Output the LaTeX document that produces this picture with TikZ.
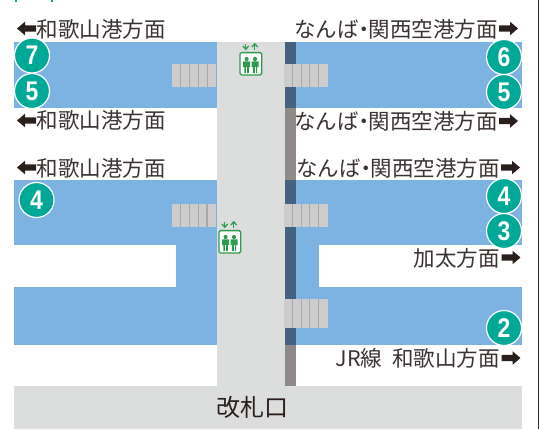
\documentclass[tikz,border=0pt]{standalone}
\usepackage{fontspec}
\setmainfont{Noto Sans CJK JP}
\newfontfamily\digitfont[BoldFeatures={FakeStretch=0.85}]{Liberation Sans}
\definecolor{platblue}{HTML}{7DB3E3}
\definecolor{edgeblue}{HTML}{456380}
\definecolor{edgegray}{HTML}{8F8A8A}
\definecolor{floorgray}{HTML}{DCDDDD}
\definecolor{stairfill}{HTML}{CBCCCB}
\definecolor{stairline}{HTML}{A8A8A8}
\definecolor{liftgreen}{HTML}{2E9C4F}
\definecolor{badge}{HTML}{00A997}
\definecolor{ink}{HTML}{3A3332}
\definecolor{arrowink}{HTML}{2A1F1C}
\newcommand{\narrowdot}{\makebox[10pt][c]{・}}
\tikzset{
  x=1pt,y=-1pt,
  dirtext/.style={font=\fontsize{21.5}{21.5}\selectfont,text=ink,inner sep=0pt},
  badgeno/.style={circle,fill=badge,draw=white,line width=1.2pt,minimum size=35pt,inner sep=0pt,text=white,
    font=\digitfont\bfseries\fontsize{27}{27}\selectfont},
  pics/stairs/.style args={#1/#2}{code={
    \fill[stairfill] (0,0) rectangle (44.3,#2);
    \foreach \k in {1,2,3,4}{\fill[stairline] (#1*\k-0.6,0) rectangle (#1*\k+0.6,#2);}
  }},
  pics/goleft/.style={code={
    \fill[arrowink] (0,0) -- (8,-6.8) -- (8,-3.2) -- (19,-3.2) -- (19,3.2) -- (8,3.2) -- (8,6.8) -- cycle;
  }},
  pics/goright/.style={code={
    \fill[arrowink] (19,0) -- (11,-6.8) -- (11,-3.2) -- (0,-3.2) -- (0,3.2) -- (11,3.2) -- (11,6.8) -- cycle;
  }},
  pics/lift/.style={code={
    \draw[liftgreen,line width=1.3pt,rounded corners=1.5pt,fill=white] (0.6,0.6) rectangle (22.4,22.9);
    \foreach \c in {7.3,15.7}{
      \fill[liftgreen] (\c,7) circle (2.1);
      \fill[liftgreen] (\c-3.5,9.3) -- (\c+3.5,9.3) -- (\c+3.5,15) -- (\c+2.2,15) -- (\c+2.2,21) -- (\c-2.2,21) -- (\c-2.2,15) -- (\c-3.5,15) -- cycle;
      \draw[white,line width=0.4pt] (\c,15) -- (\c,21);
    }
    \draw[liftgreen,line width=1.3pt] (6.5,-8.5) -- (6.5,-3.5);
    \draw[liftgreen,line width=1.3pt] (3.6,-6) -- (6.5,-2.8) -- (9.4,-6);
    \draw[liftgreen,line width=1.3pt] (15.5,-2.5) -- (15.5,-7.5);
    \draw[liftgreen,line width=1.3pt] (12.6,-5) -- (15.5,-8.2) -- (18.4,-5);
  }}
}
\begin{document}
\begin{tikzpicture}
\useasboundingbox (0,0) rectangle (541,429);
\fill[white] (0,0) rectangle (541,429);
% cropped frame marks at the top and the right edge
\fill[badge] (15,0) rectangle (17,2);
\fill[badge] (50.5,0) rectangle (53,2);
\fill[black!85] (537.6,0) rectangle (539,429);
% platforms
\fill[platblue] (14.3,41.7) rectangle (216.7,108.3);
\fill[platblue] (295.7,41.7) rectangle (521.7,108.3);
\fill[platblue] (14.3,179.7) rectangle (216.7,244.7);
\fill[platblue] (14.3,286.7) rectangle (216.7,344.7);
\fill[platblue] (175.7,244.7) rectangle (216.7,286.7);
\fill[platblue] (295.7,179.7) rectangle (521.7,244.7);
\fill[platblue] (295.7,286.7) rectangle (521.7,344.7);
\fill[platblue] (295.7,244.7) rectangle (319.3,286.7);
% concourse and ticket gate band
\fill[floorgray] (216.7,41.7) rectangle (284.7,386);
\fill[floorgray] (14.3,385.7) rectangle (521.7,429);
% platform edge
\fill[edgeblue] (284.7,41.7) rectangle (295.7,108.3);
\fill[edgegray] (284.7,108.3) rectangle (295.7,179.7);
\fill[edgeblue] (284.7,179.7) rectangle (295.7,344.7);
\fill[edgegray] (284.7,344.7) rectangle (295.7,385.7);
% stairs
\pic at (172,64) {stairs={8.8/23}};
\pic at (284,64) {stairs={8.6/23}};
\pic at (171.7,204) {stairs={8.8/22.7}};
\pic at (284,204) {stairs={8.6/22.7}};
\pic at (284,299) {stairs={8.6/29}};
% lifts
\pic at (239.3,52) {lift};
\pic at (218.3,230) {lift};
% badges
\node[badgeno] (b7) at (32,55.5) {7};
\node[badgeno] (b5l) at (32,91) {5};
\node[badgeno] (b4l) at (36.5,200) {4};
\node[badgeno] (b6) at (504,57) {6};
\node[badgeno] (b5r) at (504,92) {5};
\node[badgeno] (b4r) at (504,196) {4};
\node[badgeno] (b3) at (504,231) {3};
\node[badgeno] (b2) at (504,328) {2};
% direction labels
\pic at (17,28.5) {goleft};
\pic at (17,120.5) {goleft};
\pic at (17,167.5) {goleft};
\node[dirtext,anchor=west] (w1) at (36.5,29) {和歌山港方面};
\node[dirtext,anchor=west] (w2) at (36.5,120) {和歌山港方面};
\node[dirtext,anchor=west] (w3) at (36.5,168) {和歌山港方面};
\pic at (499,28.5) {goright};
\pic at (499,121) {goright};
\pic at (501,167.5) {goright};
\pic at (501.5,257.5) {goright};
\pic at (501.5,358) {goright};
\node[dirtext,anchor=east] (n1) at (498,29) {なんば\narrowdot 関西空港方面};
\node[dirtext,anchor=east] (n2) at (498,121) {なんば\narrowdot 関西空港方面};
\node[dirtext,anchor=east] (n3) at (500,168) {なんば\narrowdot 関西空港方面};
\node[dirtext,anchor=east] (k) at (500,258) {加太方面};
\node[dirtext,anchor=east] (jr) at (500,358) {JR線\hspace{10pt}和歌山方面};
\node[font=\fontsize{24}{24}\selectfont,text=arrowink,inner sep=0pt] (gate) at (252.5,407) {改札口};
\end{tikzpicture}
\end{document}
